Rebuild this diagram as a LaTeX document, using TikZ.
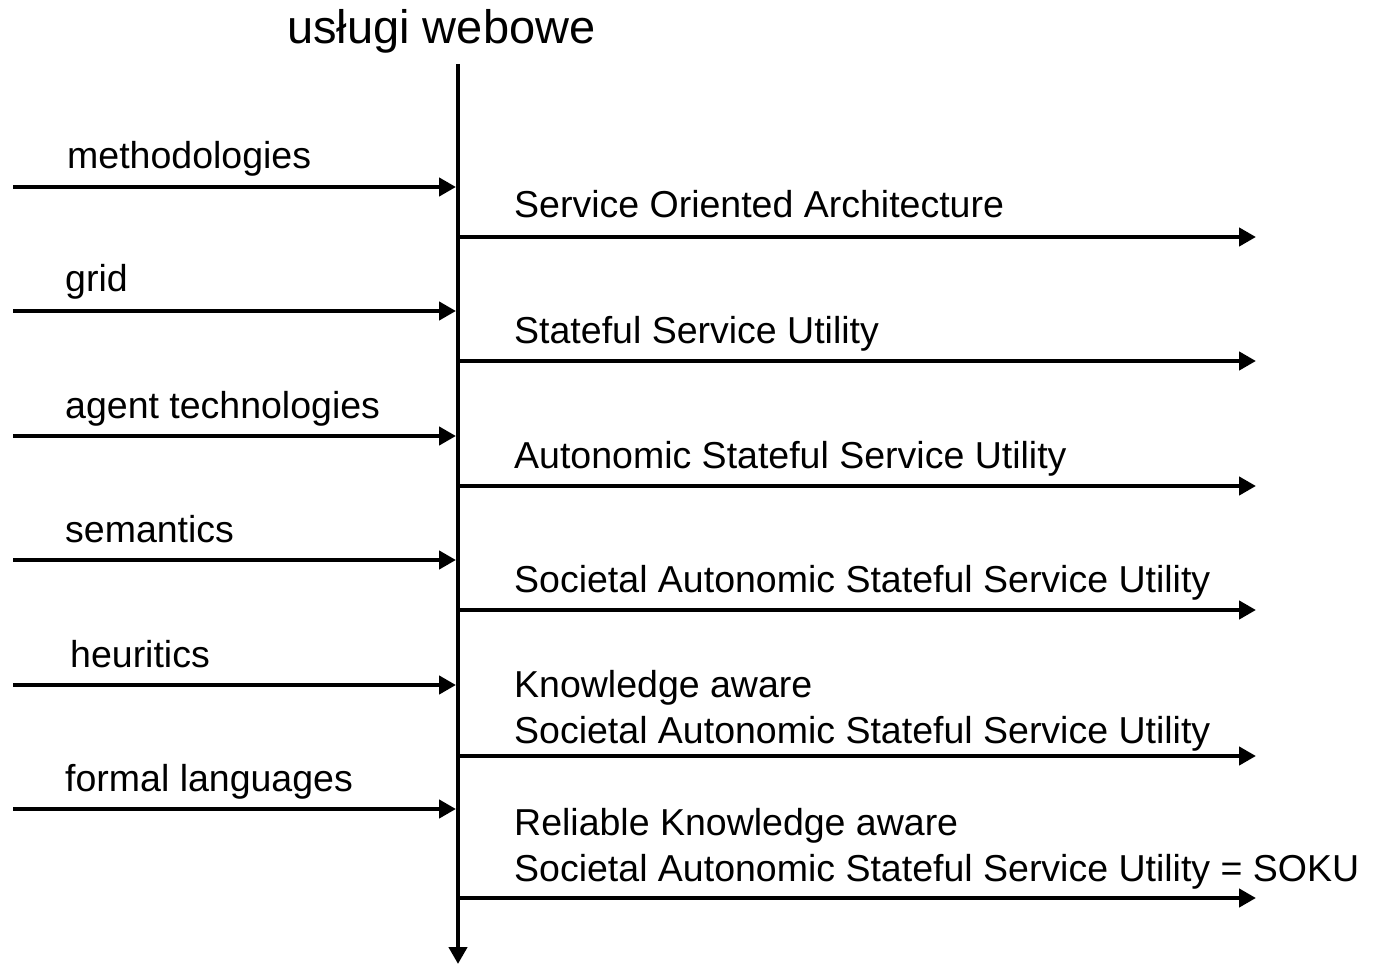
\documentclass[tikz,border=0pt]{standalone}
\usepackage{fontspec}
\setmainfont{Liberation Sans}
\usetikzlibrary{arrows.meta}
\begin{document}
\begin{tikzpicture}[x=1pt,y=-1pt,
  flow/.style={line width=4.5pt,-{Triangle[length=17pt,width=18pt]}},
  lbl/.style={anchor=base west,inner sep=0pt,align=left,
              font=\fontsize{37.5}{46}\selectfont},
  headline/.style={anchor=base west,inner sep=0pt,
              font=\fontsize{47}{56}\selectfont}]
\useasboundingbox (0,0) rectangle (1375,965);

% title and main time axis
\node[headline] (title) at (287,44) {usługi webowe};
\coordinate (axtop) at (458,64);
\coordinate (axbot) at (458,964);
\draw[flow] (axtop) -- (axbot);

% incoming influences (left side)
\node[lbl] (in1) at (67,169) {methodologies};
\node[lbl] (in2) at (65,292) {grid};
\node[lbl] (in3) at (65,418) {agent technologies};
\node[lbl] (in4) at (65,542) {semantics};
\node[lbl] (in5) at (70,667) {heuritics};
\node[lbl] (in6) at (65,791) {formal languages};

\foreach \i/\y in {1/187,2/311,3/436,4/560,5/685,6/809}{
  \coordinate (ls\i) at (13,\y);
  \coordinate (le\i) at (456,\y);
  \draw[flow] (ls\i) -- (le\i);
}

% outgoing stages (right side); multi-line labels sit on their last baseline
\node[lbl] (out1) at (514,218) {Service Oriented Architecture};
\node[lbl] (out2) at (514,343) {Stateful Service Utility};
\node[lbl] (out3) at (514,468) {Autonomic Stateful Service Utility};
\node[lbl] (out4) at (514,592) {Societal Autonomic Stateful Service Utility};
\node[lbl] (out5) at (514,743) {Knowledge aware\\Societal Autonomic Stateful Service Utility};
\node[lbl] (out6) at (514,881) {Reliable Knowledge aware\\Societal Autonomic Stateful Service Utility = SOKU};

\foreach \i/\y in {1/237,2/361,3/486,4/610,5/756,6/898}{
  \coordinate (rs\i) at (456,\y);
  \coordinate (re\i) at (1256,\y);
  \draw[flow] (rs\i) -- (re\i);
}
\end{tikzpicture}
\end{document}
